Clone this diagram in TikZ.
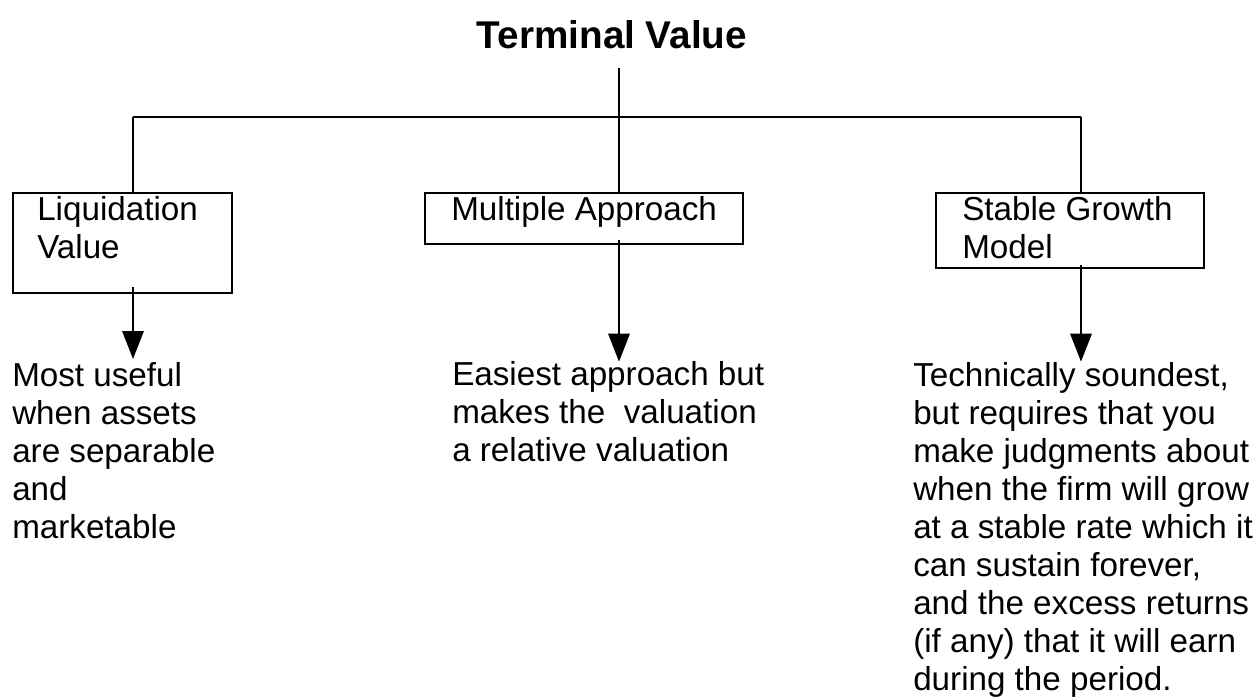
\documentclass[tikz,border=0pt]{standalone}
\usepackage{fontspec}
\setmainfont{Liberation Sans}
\usetikzlibrary{arrows.meta}

\tikzset{
  box/.style = {draw, line width = 1.6pt, rectangle, inner sep = 0pt, anchor = north west},
  txt/.style = {anchor = base west, inner sep = 0pt, align = left,
                font = \fontsize{24.9}{28.5}\selectfont},
  conn/.style = {line width = 1.6pt},
  down/.style = {conn, -{Triangle[length = 21pt, width = 16pt]}}
}

\begin{document}
\begin{tikzpicture}[x = 0.75pt, y = -0.75pt]
\useasboundingbox (0, 0) rectangle (1257, 698);

\node[anchor = base, inner sep = 0pt, font = \fontsize{29}{33}\selectfont\bfseries] at (612, 49) (tv) {Terminal Value};

\coordinate (top) at (619, 68);
\coordinate (bl) at (133, 117);
\coordinate (bm) at (619, 117);
\coordinate (br) at (1081, 117);

% boxes
\node[box, minimum width = 219pt*0.75, minimum height = 100pt*0.75] at (12, 192) (liq) {};
\node[box, minimum width = 318pt*0.75, minimum height = 51pt*0.75] at (424, 192) (mult) {};
\node[box, minimum width = 268pt*0.75, minimum height = 75pt*0.75] at (935, 192) (stab) {};

% text sits on the baseline of its last line
\node[txt] at (37, 259) (liqt)  {Liquidation\\Value};
\node[txt] at (451, 221) (multt) {Multiple Approach};
\node[txt] at (962, 259) (stabt) {Stable Growth\\Model};

% notes below
\node[txt] at (12, 538) (most) {Most useful\\when assets\\are separable\\and\\marketable};
\node[txt] at (452, 462) (easy) {Easiest approach but\\makes the \ valuation\\a relative valuation};
\node[txt] at (913, 690) (tech) {Technically soundest,\\but requires that you\\make judgments about\\when the firm will grow\\at a stable rate which it\\can sustain forever,\\and the excess returns\\(if any) that it will earn\\during the period.};

\draw[conn] (top) -- (bm);
\draw[conn] (bl) -- (br);
\draw[conn] (bl) -- (bl |- liq.north);
\draw[conn] (bm) -- (bm |- mult.north);
\draw[conn] (br) -- (br |- stab.north);

\draw[down] ([yshift = 5pt] bl |- liq.south) -- ([yshift = 2pt] bl |- most.north);
\draw[down] ([yshift = 4pt] bm |- mult.south) -- ([yshift = 0pt] bm |- easy.north);
\draw[down] ([yshift = 3pt] br |- stab.south) -- ([yshift = 0pt] br |- tech.north);

\end{tikzpicture}
\end{document}
